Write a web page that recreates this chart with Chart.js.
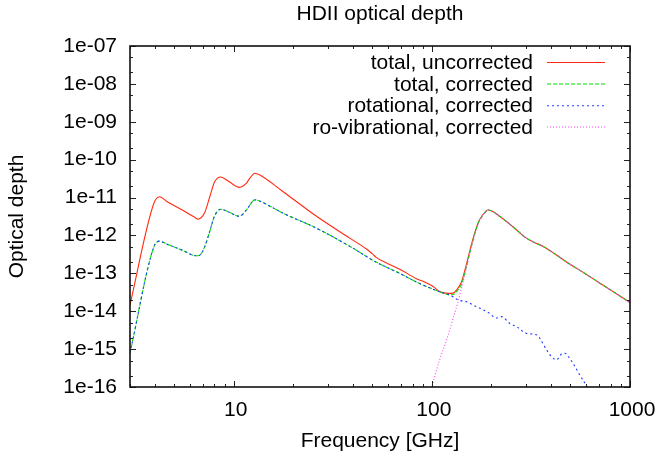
<!DOCTYPE html>
<html><head><meta charset="utf-8">
<script src="https://cdn.jsdelivr.net/npm/chart.js@4"></script>
<style>html,body{margin:0;padding:0;background:#fff}#wrap{width:658px;height:457px;position:relative}canvas{display:block}</style>
</head><body><div id="wrap"><canvas id="c" width="658" height="457"></canvas></div>
<script>
const titleText = 'HDII optical depth';
const xAxisTitle = 'Frequency [GHz]';
const yAxisTitle = 'Optical depth';
const seriesLabels = ['total, uncorrected', 'total, corrected', 'rotational, corrected', 'ro-vibrational, corrected'];
const xTickValues = [10, 100, 1000];
const xTickLabels = ['10', '100', '1000'];
const yTickValues = [1e-16, 1e-15, 1e-14, 1e-13, 1e-12, 1e-11, 1e-10, 1e-9, 1e-8, 1e-7];
const yTickLabels = ['1e-16', '1e-15', '1e-14', '1e-13', '1e-12', '1e-11', '1e-10', '1e-09', '1e-08', '1e-07'];

const uncorrFreq = [3, 3.96, 4.23, 4.6, 5.5, 6.3, 6.6, 7.14, 7.6, 8.02, 8.6, 9.5, 10.7, 11.6, 12.0, 12.8, 13.5, 17.7, 26.2, 38.5, 46.8, 50, 52.6, 60, 68.9, 83.6, 92, 101.6, 109.5, 120.8, 128, 133.2, 141.3, 150, 159, 171, 180, 185.3, 191, 200, 220, 260, 300, 330, 363, 420, 478, 600, 705, 850, 1000];
const uncorrValues = [1.48e-14, 7.08e-12, 1.05e-11, 7.9e-12, 4.7e-12, 3.1e-12, 2.7e-12, 4.0e-12, 1.1e-11, 2.6e-11, 3.5e-11, 2.6e-11, 1.86e-11, 2.4e-11, 3.1e-11, 4.4e-11, 4.0e-11, 1.45e-11, 3.2e-12, 8.5e-13, 4.4e-13, 3.3e-13, 2.6e-13, 1.8e-13, 1.29e-13, 7.2e-14, 5.9e-14, 4.5e-14, 3.3e-14, 2.95e-14, 3.0e-14, 3.6e-14, 6.0e-14, 1.86e-13, 6.2e-13, 2.1e-12, 3.4e-12, 4.0e-12, 4.7e-12, 4.5e-12, 3.2e-12, 1.6e-12, 8.5e-13, 6.5e-13, 5.2e-13, 3.2e-13, 2.0e-13, 9.5e-14, 5.5e-14, 2.95e-14, 1.7e-14];

const corrFreq = [3, 3.96, 4.23, 4.6, 5.5, 6.48, 6.74, 7.14, 7.6, 8.0, 8.6, 9.5, 10.7, 11.6, 12.8, 13.5, 17.7, 26.2, 38.5, 52.6, 68.8, 83.6, 101.6, 115, 123, 128, 133.2, 141.3, 150, 159, 171, 180, 185.3, 191, 200, 220, 260, 300, 330, 363, 420, 478, 600, 705, 850, 1000];
const corrValues = [7.9e-16, 5.0e-13, 7.1e-13, 5.9e-13, 4.1e-13, 2.9e-13, 3.0e-13, 5.0e-13, 1.35e-12, 3.2e-12, 4.9e-12, 4.1e-12, 3.2e-12, 4.7e-12, 8.7e-12, 8.1e-12, 3.9e-12, 1.55e-12, 5.2e-13, 1.95e-13, 1.0e-13, 5.9e-14, 3.8e-14, 3.0e-14, 2.7e-14, 2.75e-14, 3.3e-14, 5.2e-14, 1.6e-13, 5.5e-13, 2.0e-12, 3.3e-12, 4.0e-12, 4.7e-12, 4.5e-12, 3.2e-12, 1.6e-12, 8.5e-13, 6.5e-13, 5.2e-13, 3.2e-13, 2.0e-13, 9.5e-14, 5.5e-14, 2.95e-14, 1.7e-14];

const rotFreq = [3, 3.96, 4.23, 4.6, 5.5, 6.48, 6.74, 7.14, 7.6, 8.0, 8.6, 9.5, 10.7, 11.6, 12.8, 13.5, 17.7, 26.2, 38.5, 52.6, 68.8, 83.6, 101.6, 115, 123, 128, 135, 150, 165, 175, 195, 211, 225, 247, 270, 300, 340, 358, 380, 402, 425, 451, 470, 495, 527, 557, 605, 640];
const rotValues = [7.9e-16, 5.0e-13, 7.1e-13, 5.9e-13, 4.1e-13, 2.9e-13, 3.0e-13, 5.0e-13, 1.35e-12, 3.2e-12, 4.9e-12, 4.1e-12, 3.2e-12, 4.7e-12, 8.7e-12, 8.1e-12, 3.9e-12, 1.55e-12, 5.2e-13, 1.95e-13, 1.0e-13, 5.9e-14, 3.8e-14, 3.0e-14, 2.7e-14, 2.4e-14, 2.0e-14, 1.78e-14, 1.38e-14, 1.2e-14, 8.9e-15, 6.6e-15, 7.2e-15, 4.8e-15, 3.8e-15, 2.6e-15, 2.35e-15, 1.6e-15, 9.5e-16, 6.3e-16, 5.2e-16, 7.4e-16, 7.8e-16, 5.8e-16, 3.5e-16, 2.1e-16, 1.02e-16, 5.0e-17];

const rovibFreq = [99.5, 105, 110, 118.7, 127, 135, 141.3, 150, 159, 171, 180, 185.3, 191, 200, 220, 260, 300, 330, 363, 420, 478, 600, 705, 850, 1000];
const rovibValues = [9.0e-17, 2.5e-16, 5.6e-16, 1.74e-15, 5.6e-15, 1.62e-14, 4.1e-14, 1.55e-13, 5.4e-13, 2.0e-12, 3.3e-12, 4.0e-12, 4.7e-12, 4.5e-12, 3.2e-12, 1.6e-12, 8.5e-13, 6.5e-13, 5.2e-13, 3.2e-13, 2.0e-13, 9.5e-14, 5.5e-14, 2.95e-14, 1.7e-14];

const FONT = "'Liberation Sans', Arial, Helvetica, sans-serif";
const pts = (xs, ys) => xs.map((f, i) => ({x: f, y: ys[i]}));

const decor = {
  id: 'decor',
  afterDatasetsDraw(chart) {
    const {ctx, chartArea: a, scales: {x, y}} = chart;
    ctx.save();
    ctx.strokeStyle = '#222';
    ctx.lineWidth = 1;
    ctx.beginPath();
    for (let e = 0; e <= 3; e++) {
      for (let k = 1; k <= 9; k++) {
        const v = k * Math.pow(10, e);
        if (v < 3 || v > 1000) continue;
        const px = Math.round(x.getPixelForValue(v)) + 0.5;
        const len = k === 1 ? 6 : 3;
        ctx.moveTo(px, a.bottom); ctx.lineTo(px, a.bottom - len);
        ctx.moveTo(px, a.top); ctx.lineTo(px, a.top + len);
      }
    }
    for (let e = -16; e <= -7; e++) {
      for (const k of [1, 2, 5]) {
        if (e === -7 && k > 1) continue;
        const v = k * Math.pow(10, e);
        const py = Math.round(y.getPixelForValue(v)) + 0.5;
        const len = k === 1 ? 6 : 3;
        ctx.moveTo(a.left, py); ctx.lineTo(a.left + len, py);
        ctx.moveTo(a.right, py); ctx.lineTo(a.right - len, py);
      }
    }
    ctx.stroke();
    ctx.lineWidth = 1.6;
    ctx.strokeStyle = '#111';
    ctx.strokeRect(a.left, a.top, a.right - a.left, a.bottom - a.top);
    // title
    ctx.fillStyle = '#000';
    ctx.font = '21px ' + FONT;
    ctx.textAlign = 'center';
    ctx.textBaseline = 'middle';
    ctx.fillText(titleText, (a.left + a.right) / 2, 14);
    // legend
    const rows = [62.5, 84, 105.7, 127];
    chart.data.datasets.forEach((ds, i) => {
      ctx.textAlign = 'right';
      ctx.fillStyle = '#000';
      ctx.fillText(ds.label, 533, rows[i] + 1);
      ctx.strokeStyle = ds.borderColor;
      ctx.lineWidth = ds.borderWidth;
      ctx.setLineDash(ds.borderDash || []);
      ctx.beginPath();
      ctx.moveTo(547, rows[i]); ctx.lineTo(605, rows[i]);
      ctx.stroke();
      ctx.setLineDash([]);
    });
    ctx.restore();
  }
};

const common = {fill: false, pointRadius: 0, borderWidth: 1.1, cubicInterpolationMode: 'monotone'};

new Chart(document.getElementById('c'), {
  type: 'line',
  data: {
    datasets: [
      Object.assign({label: seriesLabels[0], data: pts(uncorrFreq, uncorrValues), borderColor: '#ff2a10', order: 4}, common),
      Object.assign({label: seriesLabels[1], data: pts(corrFreq, corrValues), borderColor: '#00e000', borderDash: [4, 2], order: 3}, common),
      Object.assign({label: seriesLabels[2], data: pts(rotFreq, rotValues), borderColor: '#1f3cff', borderDash: [2, 3], order: 2}, common),
      Object.assign({label: seriesLabels[3], data: pts(rovibFreq, rovibValues), borderColor: '#ff44ff', borderDash: [1, 2], order: 1}, common)
    ]
  },
  options: {
    responsive: false,
    maintainAspectRatio: false,
    animation: false,
    devicePixelRatio: 1,
    layout: {padding: {top: 46, right: 28, left: 0, bottom: 0}},
    plugins: {legend: {display: false}, tooltip: {enabled: false}, title: {display: false}},
    scales: {
      x: {
        type: 'logarithmic', min: 3, max: 1000, position: 'bottom',
        grid: {display: false, drawTicks: false}, border: {display: false},
        afterBuildTicks: s => { s.ticks = xTickValues.map(v => ({value: v})); },
        afterFit: s => { s.height = 70; s.paddingRight = 0; s.paddingLeft = 0; },
        ticks: {autoSkip: false, maxRotation: 0, padding: 11, labelOffset: 2, color: '#000', font: {family: FONT, size: 21},
          callback: v => { const i = xTickValues.indexOf(v); return i >= 0 ? xTickLabels[i] : ''; }},
        title: {display: true, text: xAxisTitle, color: '#000', font: {family: FONT, size: 21}, padding: {top: 0, bottom: 3}}
      },
      y: {
        type: 'logarithmic', min: 1e-16, max: 1e-7, position: 'left',
        grid: {display: false, drawTicks: false}, border: {display: false},
        afterBuildTicks: s => { s.ticks = yTickValues.map(v => ({value: v})); },
        afterFit: s => { s.width = 130; s.paddingTop = 0; s.paddingBottom = 0; },
        ticks: {autoSkip: false, padding: 13, color: '#000', font: {family: FONT, size: 21},
          callback: (v, i) => yTickLabels[i]},
        title: {display: true, text: yAxisTitle, color: '#000', font: {family: FONT, size: 21}, padding: {top: 5, bottom: 0}}
      }
    }
  },
  plugins: [decor]
});
</script></body></html>
